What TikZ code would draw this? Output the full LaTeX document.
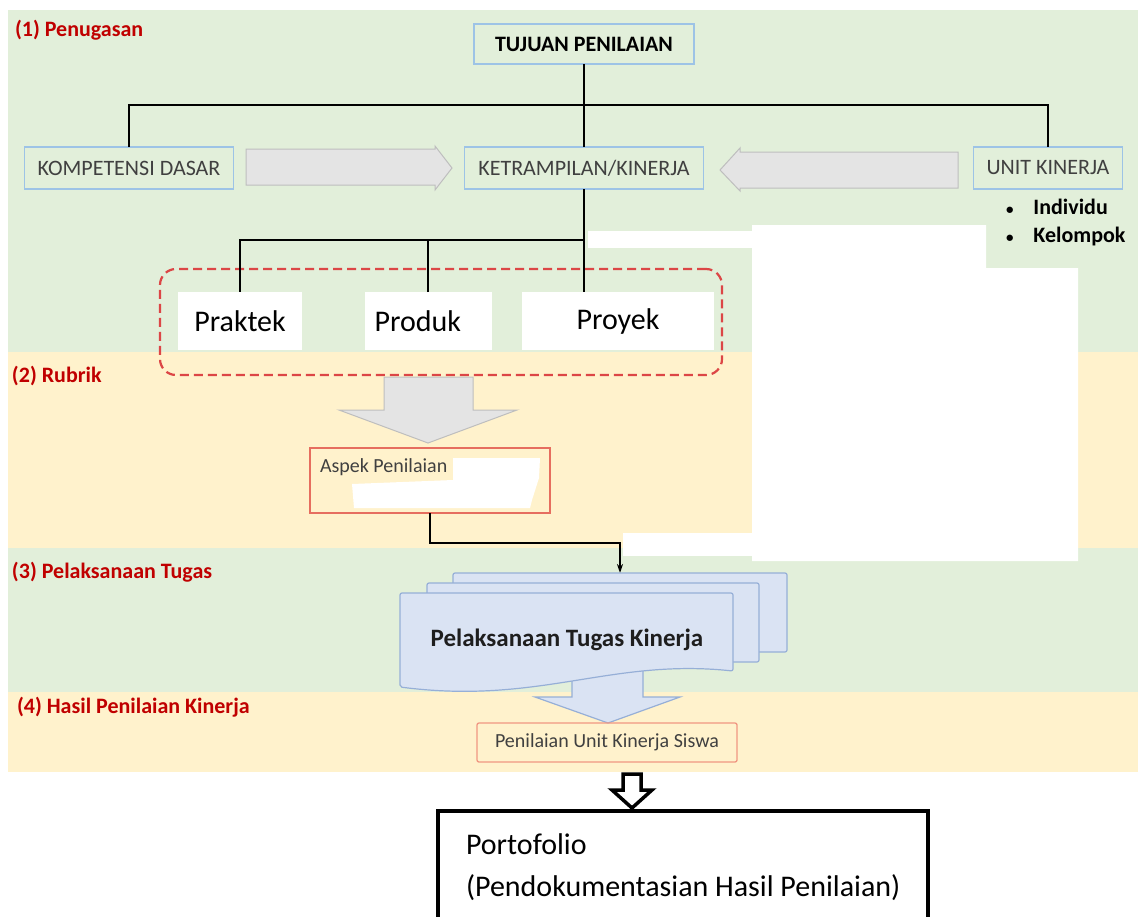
\documentclass[tikz,border=0pt]{standalone}
\usepackage{fontspec}
\setmainfont{Carlito}
\usepackage{tikz}
\usetikzlibrary{calc,positioning,arrows.meta}

\definecolor{hijau}{RGB}{226,239,218}
\definecolor{kuning}{RGB}{255,242,204}
\definecolor{garisbiru}{RGB}{157,195,230}
\definecolor{abutua}{RGB}{64,64,64}
\definecolor{merahtua}{RGB}{192,0,0}
\definecolor{merahputus}{RGB}{220,70,70}
\definecolor{abumuda}{RGB}{228,228,228}
\definecolor{abugaris}{RGB}{190,190,190}
\definecolor{merahbingkai}{RGB}{230,110,95}
\definecolor{salem}{RGB}{240,150,130}
\definecolor{birumuda}{RGB}{218,227,243}
\definecolor{birugaris}{RGB}{150,175,215}
\definecolor{abugelap}{RGB}{30,30,30}

\begin{document}
\begin{tikzpicture}[x=1pt, y=-1pt]
\tikzstyle{every node}=[inner sep=0pt, outer sep=0pt]
\tikzstyle{kotak}=[draw=garisbiru, line width=1.3pt, minimum height=42,
                   font=\fontsize{22}{26}\selectfont, text=abutua]
\tikzstyle{jenis}=[fill=white, minimum height=58, font=\fontsize{30}{34}\selectfont, text=black]
\tikzstyle{tahap}=[anchor=west, font=\bfseries\fontsize{22}{26}\selectfont, text=merahtua]
\tikzstyle{butir}=[anchor=west, font=\bfseries\fontsize{22}{26}\selectfont, text=black]
\tikzstyle{panah}=[fill=abumuda, draw=abugaris, line width=1pt]
\tikzstyle{dokumen}=[fill=birumuda, draw=birugaris, line width=1.2pt, rounded corners=2]
\useasboundingbox (0,0) rectangle (1138,916);
\fill[hijau] (8,10) rectangle (1138,352);
\fill[kuning] (8,352) rectangle (1138,548);
\fill[hijau] (8,548) rectangle (1138,692);
\fill[kuning] (8,692) rectangle (1138,772);
\fill[white] (752,225) -- (986,225) -- (986,268) -- (1078,268) -- (1078,561) -- (752,561) -- cycle;
\fill[white] (588,231) rectangle (752,248);
\fill[white] (623,533) rectangle (752,556);
\node[tahap] (t1) at (15,30) {(1) Penugasan};
\node[tahap] (t2) at (12,376) {(2) Rubrik};
\node[tahap] (t3) at (12,572) {(3) Pelaksanaan Tugas};
\node[tahap] (t4) at (17,707) {(4) Hasil Penilaian Kinerja};
\node[kotak, minimum width=220, minimum height=40, text=black,
      font=\bfseries\fontsize{22}{26}\selectfont] (tujuan) at (584,44) {TUJUAN PENILAIAN};
\node[kotak, minimum width=209] (kd) at (129,168) {KOMPETENSI DASAR};
\node[kotak, minimum width=239] (ketr) at (584,168) {KETRAMPILAN/KINERJA};
\node[kotak, minimum width=149] (unit) at (1048,168) {UNIT KINERJA};
\node[butir] (indiv) at (1006,207) {{\fontsize{15}{15}\selectfont\textbullet}\hspace{20pt}Individu};
\node[butir] (kelompok) at (1006,237) {{\fontsize{15}{15}\selectfont\textbullet}\hspace{20pt}Kelompok};
\draw[panah] (246,149) -- (435,149) -- (435,146) -- (452,168) -- (435,190) -- (435,185) -- (246,185) -- cycle;
\draw[panah] (958,152) -- (740,152) -- (740,148) -- (720,170) -- (740,191) -- (740,188) -- (958,188) -- cycle;
\draw[line width=2.8pt] (tujuan.south) -- (ketr.north);
\draw[line width=2.8pt] (kd.north) |- (tujuan.south |- 0,105) -| (unit.north);
\node[draw=merahputus, dash pattern=on 9pt off 5pt, line width=2.2pt, rounded corners=16,
      minimum width=562, minimum height=106] (grup) at (441,322) {};
\node[jenis, minimum width=124] (praktek) at (240,321) {Praktek};
\node[jenis, minimum width=127, text width=107, align=left] (produk) at (428,321) {Produk};
\node[jenis, minimum width=192] (proyek) at (618,321) {Proyek};
\draw[line width=1.3pt] (ketr.south) -- (ketr.south |- proyek.north);
\draw[line width=1.3pt] (ketr.south |- 0,240) -| (praktek.north);
\draw[line width=1.3pt] (produk.north) -- (produk.north |- 0,240);
\draw[panah] (384,377) -- (473,377) -- (473,410) -- (517,410) -- (428,443) -- (339,410) -- (384,410) -- cycle;
\node[draw=merahbingkai, line width=1.3pt, minimum width=240, minimum height=65] (aspek) at (430,480.5) {};
\node[anchor=west, font=\fontsize{20}{24}\selectfont, text=abutua] (aspekteks) at (320,467) {Aspek Penilaian};
\fill[white] (453,458) -- (540,458) -- (539,478) -- (532,500) -- (530,508) -- (354,508) -- (352,484) -- (453,480) -- cycle;
\coordinate (dokatas) at (620,573);
\draw[line width=2pt, -{Stealth[length=9pt,width=6pt]}] (aspek.south) -- ++(0,30) -| (dokatas);
\draw[fill=birumuda, draw=birugaris, line width=1.2pt] (572,660) -- (643,660) -- (643,697) -- (680,697)
      -- (608,723) -- (535,697) -- (572,697) -- cycle;
\draw[dokumen] (453,573) rectangle (787,652);
\draw[dokumen] (427,583) rectangle (759,662);
\draw[dokumen] (400,593) -- (733,593) -- (733,671) .. controls (610,658) and (540,705) .. (400,687) -- cycle;
\node[font=\bfseries\fontsize{25}{30}\selectfont, text=abugelap] (tugas) at (567,640) {Pelaksanaan Tugas Kinerja};
\node[draw=salem, line width=1.3pt, rounded corners=2, minimum width=260, minimum height=39,
      font=\fontsize{20}{24}\selectfont, text=abutua] (pukis) at (607,742.5) {Penilaian Unit Kinerja Siswa};
\draw[line width=3.5pt, fill=white, line join=miter] (623,774) -- (641,774) -- (641,790) -- (652,790)
      -- (632,808) -- (612,790) -- (623,790) -- cycle;
\node[draw, line width=4pt, minimum width=490, minimum height=120, anchor=north west] (porto) at (438,811) {};
\node[anchor=north west, align=left, font=\fontsize{30}{42}\selectfont] (portoteks) at (466,834)
      {Portofolio\\(Pendokumentasian Hasil Penilaian)};
\end{tikzpicture}
\end{document}
